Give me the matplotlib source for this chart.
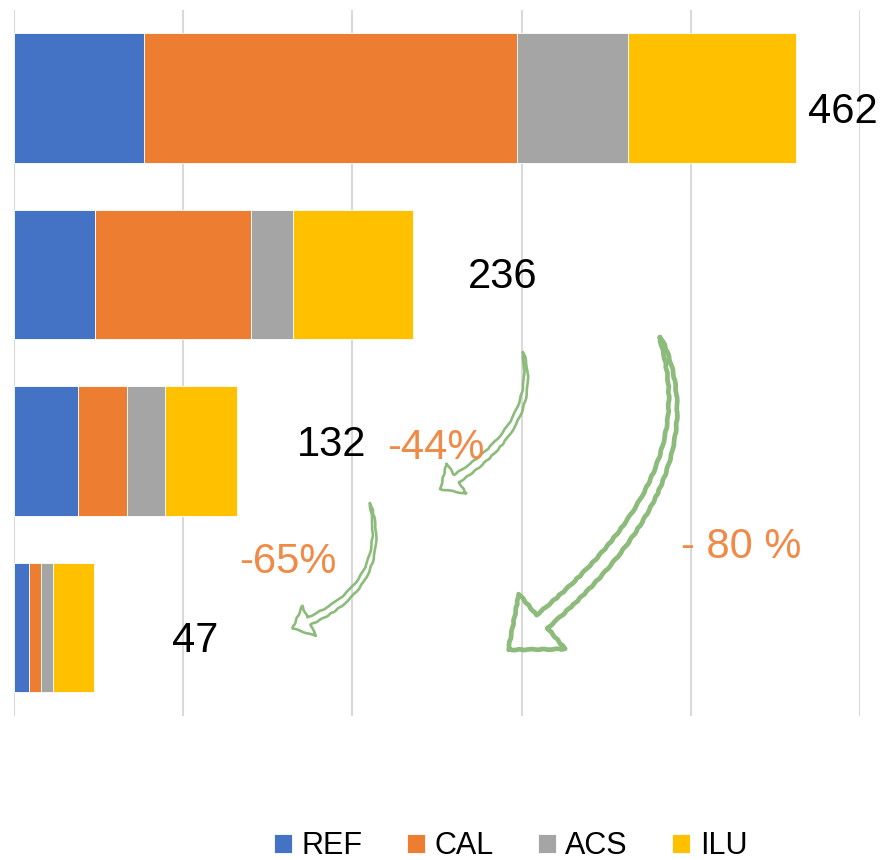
import numpy as np
import matplotlib
matplotlib.use('Agg')
import matplotlib.pyplot as plt
from matplotlib.patches import Polygon
from matplotlib.transforms import Affine2D

plt.rcParams['font.family'] = ['Liberation Sans', 'DejaVu Sans']

# stacked values per row (top to bottom)
series = ['REF', 'CAL', 'ACS', 'ILU']
ref = [77, 48, 38, 9]
cal = [220, 92, 29, 7]
acs = [66, 25, 22, 7]
ilu = [99, 71, 43, 24]
colors = ['#4472C4', '#ED7D31', '#A5A5A5', '#FFC000']

# where the totals are written (x in data units, y offset from row centre)
label_x = [490, 289, 188, 107]
label_dy = [0.14, 0.075, 0.03, 0.14]

# reduction labels, pixel positions (x centre, baseline) from top-left
changes = ['-44%', '-65%', '- 80 %']
change_xy = [(436, 459), (288, 573), (741, 558)]

# curved arrows: start, control point, head base, head length, head width,
# shaft width, stroke width (all pixels, top-left origin)
arrows = [
    ((523, 352), (540, 424), (456.5, 478.5), 19.5, 36, 9, 1.9),
    ((370, 503), (391, 584), (309, 621), 18, 33, 8, 1.9),
    ((660, 337), (714, 477), (542, 621.5), 44, 72, 17, 3.4),
]

W, H = 882, 860
fig = plt.figure(figsize=(W / 100, H / 100), dpi=100)
ax = fig.add_axes([14 / W, 1 - 715.7 / H, (860 - 14) / W, (715.7 - 10) / H])

rows = np.arange(len(ref))
left = np.zeros(len(ref))
for name, vals, c in zip(series, [ref, cal, acs, ilu], colors):
    ax.barh(rows, vals, left=left, height=0.735, color=c,
            edgecolor='white', linewidth=0.6, label=name, zorder=2)
    left = left + np.array(vals)

totals = left
for i, tot in enumerate(totals):
    ax.text(label_x[i], rows[i] + label_dy[i], '%d' % tot, fontsize=30,
            ha='center', va='baseline', color='black')

ax.set_xlim(0, 500)
ax.set_ylim(3.5, -0.5)
ax.set_xticks(range(0, 501, 100))
ax.set_yticks([])
ax.xaxis.grid(True, color='#D9D9D9', linewidth=1.5)
ax.set_axisbelow(True)
ax.tick_params(length=0, labelbottom=False, labelleft=False)
for s in ax.spines.values():
    s.set_visible(False)

# pixel coordinates (origin top-left) -> figure
pix = Affine2D().scale(1 / W, -1 / H).translate(0, 1) + fig.transFigure


def arrow_outline(p0, p1, p2, head_len, head_w, shaft_w, n=80):
    p0, p1, p2 = map(np.asarray, (p0, p1, p2))
    t = np.linspace(0, 1, n)[:, None]
    pts = (1 - t) ** 2 * p0 + 2 * t * (1 - t) * p1 + t ** 2 * p2
    d = 2 * (1 - t) * (p1 - p0) + 2 * t * (p2 - p1)
    d = d / np.linalg.norm(d, axis=1)[:, None]
    nrm = np.column_stack([-d[:, 1], d[:, 0]])
    half = shaft_w / 2 * np.sqrt(t)
    side_a = pts + nrm * half
    side_b = pts - nrm * half
    tip = p2 + d[-1] * head_len
    barb_a = p2 + nrm[-1] * head_w / 2
    barb_b = p2 - nrm[-1] * head_w / 2
    return np.vstack([side_a, barb_a, tip, barb_b, side_b[::-1]])


for p0, p1, p2, hl, hw, sw, lw in arrows:
    poly = Polygon(arrow_outline(p0, p1, p2, hl, hw, sw), closed=True,
                   transform=pix, facecolor='none', edgecolor='#86B874',
                   linewidth=lw, joinstyle='round', alpha=0.95, zorder=3)
    poly.set_sketch_params(scale=0.4, length=14, randomness=3)
    fig.add_artist(poly)

for txt, (x, y) in zip(changes, change_xy):
    fig.text(x / W, 1 - y / H, txt, fontsize=30, color='#EF8A47',
             ha='center', va='baseline', zorder=4)

ax.legend(loc='center', bbox_to_anchor=(510.5 / W, 1 - 846 / H),
          bbox_transform=fig.transFigure, ncol=4, frameon=False, fontsize=22,
          handlelength=0.6, handleheight=0.57, handletextpad=0.3,
          columnspacing=1.45, borderpad=0)

fig.savefig('out.png', dpi=100)
